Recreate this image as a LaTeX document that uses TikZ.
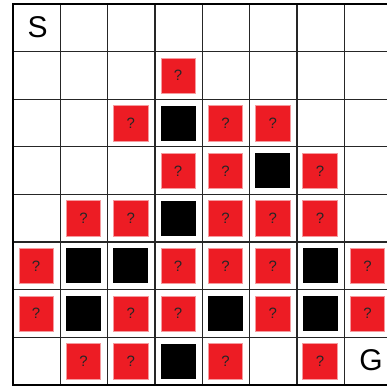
\documentclass[tikz,border=0pt]{standalone}
\usepackage{fontspec}
\setmainfont{Liberation Sans}
\definecolor{qred}{HTML}{ED1C24}
\definecolor{qedge}{HTML}{F59A9E}
\begin{document}
\begin{tikzpicture}[x=1pt,y=-1pt,
  cell/.style={minimum width=47.33pt,minimum height=47.6pt,inner sep=0pt,outer sep=0pt},
  qbox/.style={fill=qred,draw=qedge,line width=0.8pt,minimum width=34.5pt,minimum height=35.5pt,inner sep=0pt,font=\fontsize{15}{15}\selectfont,text=black!85},
  wall/.style={fill=black,minimum width=35pt,minimum height=35pt,inner sep=0pt},
  gridline/.style={line width=1.3pt,black!85},
  border/.style={line width=2.2pt,black}]
\useasboundingbox (0,0) rectangle (387,388);
\fill[white] (0,0) rectangle (387,388);
% cell anchors
\foreach \r in {0,...,7}{
  \foreach \c in {0,...,7}{
    \node[cell] (c-\r-\c) at ({13+47.33*(\c+0.5)},{4+47.6*(\r+0.5)}) {};
  }
}
% grid
\foreach \i in {1,...,7}{
  \draw[gridline] ({13+47.33*\i},4) -- ({13+47.33*\i},384.8);
  \draw[gridline] (13,{4+47.6*\i}) -- (390,{4+47.6*\i});
}
\draw[border] (390,4) -- (13,4) -- (13,384.8) -- (390,384.8);
% question boxes
\foreach \r/\c in {1/3, 2/2,2/4,2/5, 3/3,3/4,3/6, 4/1,4/2,4/4,4/5,4/6,
  5/0,5/3,5/4,5/5,5/7, 6/0,6/2,6/3,6/5,6/7, 7/1,7/2,7/4,7/6}{
  \node[qbox] (q-\r-\c) at ([xshift=-0.5pt,yshift=-0.3pt]c-\r-\c.center) {?};
}
% walls
\foreach \r/\c in {2/3, 3/5, 4/3, 5/1,5/2,5/6, 6/1,6/4,6/6, 7/3}{
  \node[wall] (w-\r-\c) at ([xshift=-0.5pt]c-\r-\c.center) {};
}
\node[font=\fontsize{30}{30}\selectfont] (S) at ([xshift=1pt,yshift=1pt]c-0-0.center) {S};
\node[font=\fontsize{30}{30}\selectfont] (G) at ([xshift=3pt,yshift=1pt]c-7-7.center) {G};
\end{tikzpicture}
\end{document}
